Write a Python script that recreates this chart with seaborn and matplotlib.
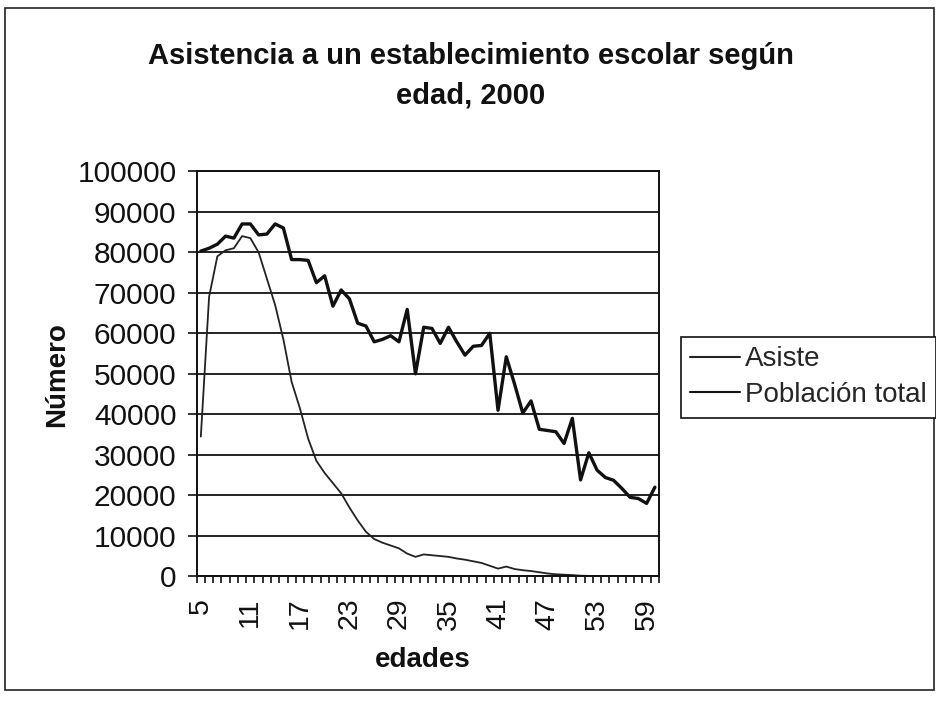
import matplotlib
matplotlib.use("Agg")
import matplotlib.pyplot as plt
import seaborn as sns
import pandas as pd
from matplotlib.patches import Rectangle
from matplotlib.ticker import FixedLocator

# ---- data ----
edades = list(range(5, 61))
asiste = [34500, 69000, 79000, 80500, 81000, 84000, 83500, 80000, 73500, 67000,
          58500, 48000, 41500, 34000, 28500, 25500, 23000, 20500, 17000, 13800,
          11000, 9200, 8300, 7600, 6900, 5600, 4800, 5400, 5200, 5000,
          4800, 4400, 4100, 3700, 3300, 2600, 1900, 2400, 1800, 1500,
          1300, 1000, 700, 500, 400, 300, 150, 100, 80, 50,
          40, 30, 30, 20, 20, 20]
poblacion = [80300, 81000, 82000, 84000, 83500, 87000, 87000, 84300, 84500, 87000,
             86000, 78200, 78200, 78000, 72500, 74200, 66700, 70700, 68500, 62500,
             61800, 57900, 58500, 59400, 57900, 65900, 50000, 61500, 61200, 57500,
             61500, 57900, 54600, 56800, 57000, 60000, 41000, 54200, 47500, 40300,
             43300, 36300, 36000, 35700, 32800, 39000, 23800, 30500, 26200, 24400,
             23700, 21700, 19500, 19200, 18000, 22000]
series_names = ["Asiste", "Población total"]
tick_labels = [5, 11, 17, 23, 29, 35, 41, 47, 53, 59]
yticks = list(range(0, 100001, 10000))

df = pd.DataFrame({"edad": edades, "Asiste": asiste, "Población total": poblacion})

sns.set_style("white")
plt.rcParams["font.family"] = ["Liberation Sans", "DejaVu Sans"]

W, H = 936, 701
fig = plt.figure(figsize=(W / 100, H / 100), dpi=100)
left, right, top, bottom = 196.7, 659, 171.3, 576.3
ax = fig.add_axes([left / W, 1 - bottom / H, (right - left) / W, (bottom - top) / H])

sns.lineplot(data=df, x="edad", y="Asiste", ax=ax, color="#222222", linewidth=1.3,
             label=series_names[0])
sns.lineplot(data=df, x="edad", y="Población total", ax=ax, color="#111111",
             linewidth=2.4, label=series_names[1])

ax.set_xlim(4.5, 60.5)
ax.set_ylim(0, 100000)
ax.set_yticks(yticks)
ax.set_yticklabels([str(v) for v in yticks])
ax.yaxis.grid(True, color="#111111", linewidth=1.3)
ax.xaxis.grid(False)
ax.set_axisbelow(True)

ax.xaxis.set_major_locator(FixedLocator(tick_labels))
ax.set_xticklabels([str(v) for v in tick_labels], rotation=90)
ax.xaxis.set_minor_locator(FixedLocator([e - 0.5 for e in edades] + [60.5]))
ax.tick_params(axis="x", which="major", length=0, pad=15.5, labelsize=20.5,
               labelcolor="#111111")
ax.tick_params(axis="x", which="minor", length=5, width=1.2, color="#111111",
               direction="out", bottom=True)
ax.tick_params(axis="y", which="major", length=6.5, width=1.2, color="#111111",
               direction="out", left=True, pad=8, labelsize=21.5,
               labelcolor="#111111")

for s in ax.spines.values():
    s.set_color("#111111")
    s.set_linewidth(1.4)
    s.set_visible(True)

ax.set_xlabel("")
ax.set_ylabel("")

fig.text(471 / W, 1 - 76 / H, "Asistencia a un establecimiento escolar según\nedad, 2000",
         ha="center", va="center", fontsize=21, fontweight="bold",
         linespacing=1.5, color="#111111")
fig.text(57 / W, 1 - 375 / H, "Número", rotation=90, ha="center", va="center",
         fontsize=20, fontweight="bold", color="#111111")
fig.text(423 / W, 1 - 660 / H, "edades", ha="center", va="center",
         fontsize=20, fontweight="bold", color="#111111")

ax.get_legend().remove()
handles, labels = ax.get_legend_handles_labels()
leg = fig.legend(handles, labels, loc="upper left",
                 bbox_to_anchor=(680.7 / W, 1 - 336.7 / H),
                 fontsize=20, frameon=True, fancybox=False, framealpha=1,
                 edgecolor="#111111", handlelength=1.8, handletextpad=0.15,
                 borderpad=0.35, labelspacing=0.35, borderaxespad=0)
leg.get_frame().set_linewidth(1.2)
for line in leg.get_lines():
    line.set_linewidth(1.5)

fig.patches.append(Rectangle((5 / W, 1 - 690 / H), (934 - 5) / W, (690 - 8) / H,
                             transform=fig.transFigure, fill=False,
                             edgecolor="#222222", linewidth=1.2))

fig.savefig("out.png", dpi=100)
